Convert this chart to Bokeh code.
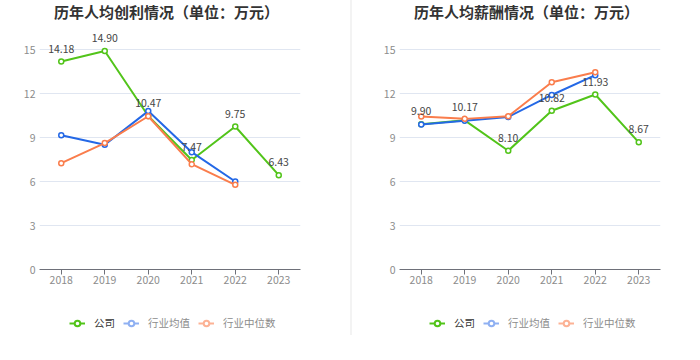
from bokeh.plotting import figure
from bokeh.layouts import row, column
from bokeh.models import (ColumnDataSource, LabelSet, Label, Legend, LegendItem,
                          Range1d, FixedTicker, Spacer)
from bokeh.core.properties import value
from bokeh.embed import file_html
from bokeh.resources import INLINE

years = ["2018", "2019", "2020", "2021", "2022", "2023"]
industry_years = ["2018", "2019", "2020", "2021", "2022"]

profit_title = "历年人均创利情况（单位：万元）"
profit_company = [14.18, 14.90, 10.47, 7.47, 9.75, 6.43]
profit_mean = [9.15, 8.50, 10.80, 8.00, 6.00]
profit_median = [7.25, 8.62, 10.45, 7.18, 5.77]

salary_title = "历年人均薪酬情况（单位：万元）"
salary_company = [9.90, 10.17, 8.10, 10.82, 11.93, 8.67]
salary_mean = [9.88, 10.15, 10.40, 11.90, 13.25]
salary_median = [10.43, 10.27, 10.45, 12.77, 13.45]

series_names = ["公司", "行业均值", "行业中位数"]
y_ticks = [0, 3, 6, 9, 12, 15]
Y_MAX = 15

GREEN = "#52c41a"
BLUE = "#2468e6"
ORANGE = "#fa7d4c"
BLUE_L = "#8fb0f2"
ORANGE_L = "#fcb295"
FONT = "Noto Sans CJK SC"
AXIS_TXT = "#8c8c8c"

AXIS_PX = 220          # pixel height of the 0..Y_MAX span
HEADROOM_PX = 24       # room above the top tick for data labels


def blank_fig(width, height):
    f = figure(width=width, height=height, x_axis_type=None, y_axis_type=None,
               output_backend="svg", toolbar_location=None,
               min_border=0, x_range=Range1d(0, 1), y_range=Range1d(0, 1))
    f.outline_line_color = None
    f.background_fill_color = "white"
    f.border_fill_color = "white"
    return f


def make_panel(title, company, mean, median, width, bl, br):
    # title strip (its frame is aligned with the chart frame by the column)
    t = blank_fig(width, 25)
    t.add_layout(Label(x=127, y=14, x_units="screen", y_units="screen",
                       text=title, text_align="center", text_baseline="middle",
                       text_font=FONT, text_font_size="15px",
                       text_font_style="bold", text_color="#333333"))

    # main chart; the frame reaches above the top tick so labels are not clipped
    y_end = Y_MAX * (AXIS_PX + HEADROOM_PX) / AXIS_PX
    p = figure(width=width, height=AXIS_PX + HEADROOM_PX + 31, x_range=years,
               y_range=Range1d(0, y_end),
               output_backend="svg", toolbar_location=None,
               min_border_left=bl, min_border_right=br,
               min_border_top=0, min_border_bottom=31)
    p.outline_line_color = None
    p.background_fill_color = "white"
    p.border_fill_color = "white"
    p.xgrid.grid_line_color = None
    p.ygrid.grid_line_color = "#e0e6f1"
    p.ygrid.grid_line_width = 1

    p.yaxis.ticker = FixedTicker(ticks=y_ticks)
    p.yaxis.axis_line_color = None
    p.yaxis.major_tick_line_color = None
    p.yaxis.minor_tick_line_color = None
    p.yaxis.major_tick_out = 0
    p.yaxis.major_tick_in = 0
    p.yaxis.minor_tick_out = 0
    p.yaxis.major_label_standoff = 4
    p.yaxis.major_label_text_color = AXIS_TXT
    p.yaxis.major_label_text_font = FONT
    p.yaxis.major_label_text_font_size = "10.5px"

    p.xaxis.axis_line_color = "#6e7079"
    p.xaxis.major_tick_line_color = "#6e7079"
    p.xaxis.major_tick_out = 5
    p.xaxis.major_tick_in = 0
    p.xaxis.major_label_standoff = 1
    p.xaxis.major_label_text_color = AXIS_TXT
    p.xaxis.major_label_text_font = FONT
    p.xaxis.major_label_text_font_size = "10.5px"

    src_c = ColumnDataSource(dict(x=years, y=company,
                                  label=["%.2f" % v for v in company]))
    src_m = ColumnDataSource(dict(x=industry_years, y=mean))
    src_d = ColumnDataSource(dict(x=industry_years, y=median))

    for src, col in ((src_c, GREEN), (src_m, BLUE), (src_d, ORANGE)):
        p.line("x", "y", source=src, line_color=col, line_width=2)
        p.scatter("x", "y", source=src, marker="circle", size=5,
                  fill_color="white", line_color=col, line_width=1.5)

    p.add_layout(LabelSet(x="x", y="y", text="label", source=src_c,
                          y_offset=9, text_align="center", text_baseline="bottom",
                          text_font=value(FONT), text_font_size="10.5px",
                          text_color="#454545"))

    # legend strip: icon renderers sit outside the strip's visible range
    lg = blank_fig(width, 60)
    off_x, off_y = [-5, -4], [-5, -5]
    icons = []
    for col in (GREEN, BLUE_L, ORANGE_L):
        ln = lg.line(off_x, off_y, line_color=col, line_width=2)
        sc = lg.scatter(off_x[:1], off_y[:1], marker="circle", size=8,
                        fill_color="white", line_color=col, line_width=2)
        icons.append([ln, sc])

    common = dict(orientation="horizontal", label_text_font=FONT,
                  label_text_font_size="10.5px", glyph_width=16, glyph_height=14,
                  label_height=14, label_standoff=9, padding=0, margin=0,
                  spacing=8, border_line_alpha=0, background_fill_alpha=0)
    leg1 = Legend(items=[LegendItem(label=series_names[0], renderers=icons[0])],
                  location=(30, 30), label_text_color="#333333", **common)
    leg2 = Legend(items=[LegendItem(label=series_names[1], renderers=icons[1]),
                         LegendItem(label=series_names[2], renderers=icons[2])],
                  location=(84, 30), label_text_color=AXIS_TXT, **common)
    lg.add_layout(leg1)
    lg.add_layout(leg2)
    return column(t, p, lg, spacing=0)


c1 = make_panel(profit_title, profit_company, profit_mean, profit_median, 350, 39, 50)
divider = Spacer(width=2, height=335, styles={"background-color": "#f3f3f3"})
c2 = make_panel(salary_title, salary_company, salary_mean, salary_median, 348, 47, 40)

layout = row(c1, divider, c2, spacing=0)

with open("out.html", "w") as f:
    f.write(file_html(layout, INLINE))
